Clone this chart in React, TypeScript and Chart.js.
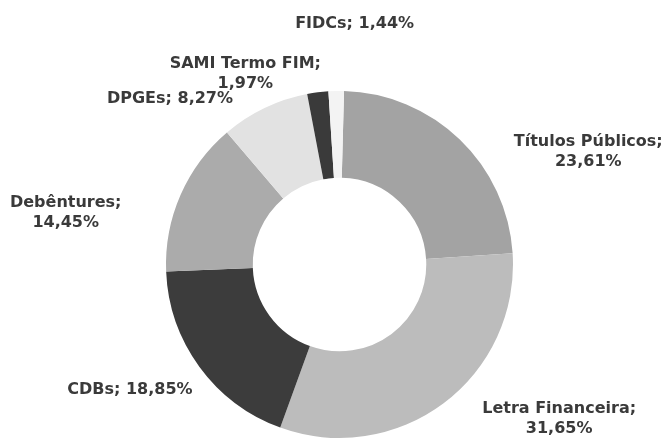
import React, { useEffect, useRef } from "react";
import { Chart, registerables } from "chart.js";

Chart.register(...registerables);

const categories = ["Títulos Públicos", "Letra Financeira", "CDBs", "Debêntures", "DPGEs", "SAMI Termo FIM", "FIDCs"];
const values = [23.61, 31.65, 18.85, 14.45, 8.27, 1.97, 1.44];
const valueLabels = ["23,61%", "31,65%", "18,85%", "14,45%", "8,27%", "1,97%", "1,44%"];
// label lines: whether name and value are split on two lines
const labelSplit = [true, true, false, true, false, true, false];
const sliceColors = ["#a3a3a3", "#bcbcbc", "#3c3c3c", "#ababab", "#e2e2e2", "#3a3a3a", "#f3f3f3"];
// label anchor offsets from chart centre, in units of outer radius
const labelOffsets: [number, number][] = [
  [1.434, -0.65],
  [1.266, 0.89],
  [-1.208, 0.723],
  [-1.578, -0.30],
  [-0.977, -0.954],
  [-0.543, -1.10],
  [0.087, -1.387],
];

const labelPlugin = {
  id: "outLabels",
  afterDatasetsDraw(chart: any) {
    const meta = chart.getDatasetMeta(0);
    const arc = meta.data[0];
    if (!arc) return;
    const { x, y, outerRadius } = arc.getProps(["x", "y", "outerRadius"], true);
    const ctx = chart.ctx;
    ctx.save();
    ctx.font = "bold 16px 'DejaVu Sans', Verdana, sans-serif";
    ctx.fillStyle = "#3a3a3a";
    ctx.textAlign = "center";
    ctx.textBaseline = "middle";
    categories.forEach((c, i) => {
      const [ox, oy] = labelOffsets[i];
      const lx = x + ox * outerRadius;
      const ly = y + oy * outerRadius;
      if (labelSplit[i]) {
        ctx.fillText(c + ";", lx, ly - 10);
        ctx.fillText(valueLabels[i], lx, ly + 10);
      } else {
        ctx.fillText(c + "; " + valueLabels[i], lx, ly);
      }
    });
    ctx.restore();
  },
};

export default function App() {
  const ref = useRef<HTMLCanvasElement | null>(null);
  useEffect(() => {
    document.body.style.margin = "0";
    const canvas = ref.current!;
    const chart = new Chart(canvas, {
      type: "doughnut",
      data: {
        labels: categories,
        datasets: [
          {
            data: values,
            backgroundColor: sliceColors,
            borderColor: "#ffffff",
            borderWidth: 0,
          },
        ],
      },
      options: {
        responsive: false,
        animation: false,
        cutout: "50%",
        rotation: 1.5,
        layout: { padding: { top: 91, bottom: 1, left: 166, right: 155 } },
        plugins: {
          legend: { display: false },
          tooltip: { enabled: false },
        },
      },
      plugins: [labelPlugin],
    });
    return () => chart.destroy();
  }, []);
  return (
    <div style={{ width: 668, height: 439, background: "#fff" }}>
      <canvas ref={ref} width={668} height={439} style={{ display: "block" }} />
    </div>
  );
}
